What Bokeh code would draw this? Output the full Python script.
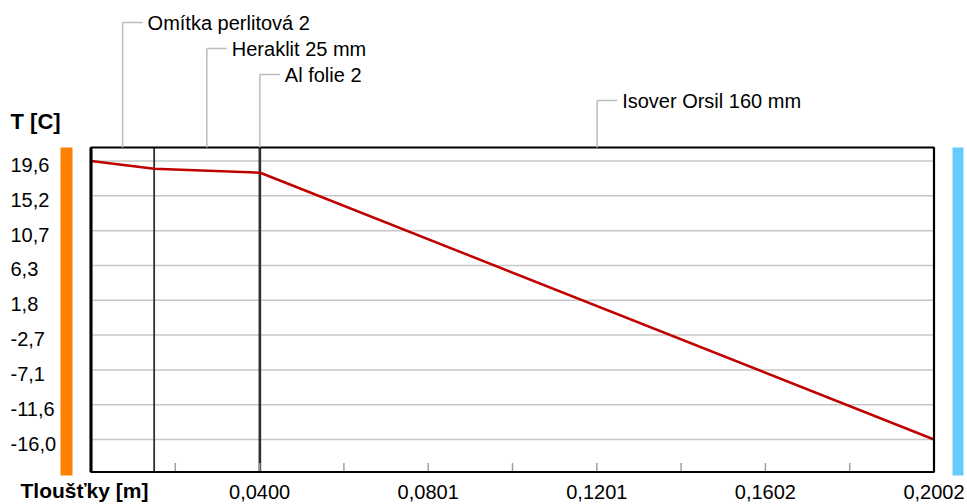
import numpy as np
from bokeh.plotting import figure
from bokeh.models import Range1d
from bokeh.core.properties import value
from bokeh.embed import file_html
from bokeh.resources import INLINE

# Wall layers, inside -> outside
layer_names = ["Omítka perlitová 2", "Heraklit 25 mm", "Al folie 2", "Isover Orsil 160 mm"]
layer_thickness = [0.015, 0.025, 0.0002, 0.160]          # m
# temperature at each layer interface, inner surface first (°C)
interface_temps = [19.6, 18.6, 18.1, 18.1, -16.0]

y_ticks = [19.6, 15.15, 10.7, 6.25, 1.8, -2.65, -7.1, -11.55, -16.0]
y_tick_labels = ["19,6", "15,2", "10,7", "6,3", "1,8", "-2,7", "-7,1", "-11,6", "-16,0"]
x_major_ticks = [0.04004, 0.08008, 0.12012, 0.16016, 0.2002]
x_tick_labels = ["0,0400", "0,0801", "0,1201", "0,1602", "0,2002"]
x_minor_ticks = [0.02002, 0.06006, 0.1001, 0.14014, 0.18018]

# ---- layout in canvas pixels ----
W, H = 967, 504
X0_PX, X1_PX = 90.5, 933.5         # where 0 m and the full thickness sit
Y_FIRST_PX, Y_LAST_PX = 160.5, 439.0
AREA_TOP_PX, AREA_BOTTOM_PX = 147, 471.5
FONT = value("Liberation Sans")

bounds = np.concatenate([[0.0], np.cumsum(layer_thickness)])
total = bounds[-1]

kx = (X1_PX - X0_PX) / total
x_start = -X0_PX / kx
x_end = x_start + W / kx
ky = (Y_LAST_PX - Y_FIRST_PX) / (y_ticks[0] - y_ticks[-1])
y_end = y_ticks[0] + Y_FIRST_PX / ky
y_start = y_end - H / ky


def dx(px):
    return x_start + px / kx


def dy(py):
    return y_end - py / ky


area_top = dy(AREA_TOP_PX)
area_bottom = dy(AREA_BOTTOM_PX)

p = figure(width=W, height=H,
           x_range=Range1d(x_start, x_end), y_range=Range1d(y_start, y_end),
           output_backend="svg", toolbar_location=None,
           x_axis_location=None, y_axis_location=None,
           min_border=0)
p.outline_line_color = None
p.grid.visible = False
p.background_fill_color = "white"
p.border_fill_color = "white"

# inner / outer side colour bars
p.quad(left=dx(60), right=dx(72), top=area_top, bottom=dy(475),
       fill_color="#FF8000", line_color=None)
p.quad(left=dx(952), right=dx(963), top=area_top, bottom=dy(475),
       fill_color="#66CCFF", line_color=None)

# horizontal grid
p.segment(x0=0, x1=total, y0=y_ticks, y1=y_ticks, line_color="#c8c8c8", line_width=1.5)

# layer interfaces
p.segment(x0=bounds[1:-1], x1=bounds[1:-1], y0=area_bottom, y1=area_top,
          line_color="#303030", line_width=1.8)

# temperature profile
p.line(bounds, interface_temps, line_color="#C00000", line_width=2.5)

# thickness ticks (inside the plot area, along its bottom edge)
p.segment(x0=x_minor_ticks + x_major_ticks, x1=x_minor_ticks + x_major_ticks,
          y0=area_bottom, y1=dy(AREA_BOTTOM_PX - 9), line_color="#a0a0a0", line_width=1.5)

# plot area border
p.quad(left=0, right=total, top=area_top, bottom=area_bottom,
       fill_color=None, line_color="black", line_width=2.2)
p.segment(x0=0, x1=0, y0=area_bottom, y1=area_top, line_color="black", line_width=3)

# layer name callouts
mids = (bounds[:-1] + bounds[1:]) / 2
levels = [dy(22 + 26 * i) for i in range(len(layer_names))]
p.segment(x0=mids, x1=mids, y0=area_top, y1=levels, line_color="#bdbdbd", line_width=1.5)
p.segment(x0=mids, x1=mids + 20 / kx, y0=levels, y1=levels, line_color="#bdbdbd", line_width=1.5)
p.text(x=mids + 25 / kx, y=levels, text=layer_names, text_font=FONT,
       text_font_size="20px", text_color="black", text_baseline="middle", text_align="left")

# y tick labels and title
p.text(x=dx(10), y=[t - 4 / ky for t in y_ticks], text=y_tick_labels, text_font=FONT,
       text_font_size="20px", text_color="black", text_baseline="middle", text_align="left")
p.text(x=[dx(10)], y=[dy(121)], text=["T [C]"], text_font=FONT, text_font_style="bold",
       text_font_size="22px", text_color="black", text_baseline="middle", text_align="left")

# x tick labels and title
p.text(x=x_major_ticks, y=dy(491), text=x_tick_labels, text_font=FONT,
       text_font_size="20px", text_color="black", text_baseline="middle", text_align="center")
p.text(x=[dx(20)], y=[dy(490)], text=["Tloušťky [m]"], text_font=FONT, text_font_style="bold",
       text_font_size="21px", text_color="black", text_baseline="middle", text_align="left")

open("out.html", "w").write(file_html(p, INLINE))
